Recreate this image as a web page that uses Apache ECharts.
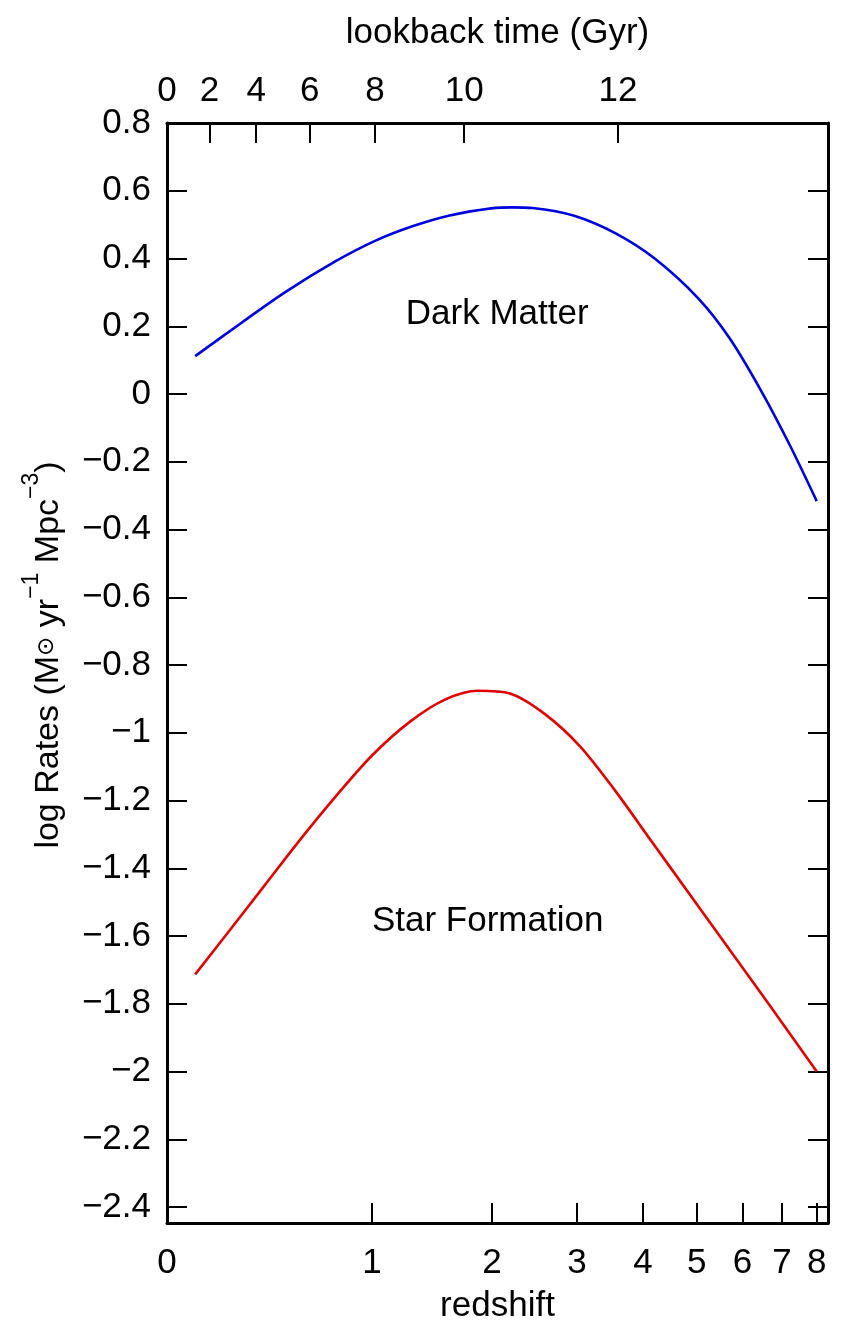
<!DOCTYPE html>
<html>
<head>
<meta charset="utf-8">
<script src="https://cdn.jsdelivr.net/npm/echarts@6/dist/echarts.min.js"></script>
<style>
  html, body { margin: 0; padding: 0; background: #fff; }
  #chart { width: 846px; height: 1331px; }
</style>
</head>
<body>
<div id="chart"></div>
<script>
// Tick labels
const redshiftTicks = [0, 1, 2, 3, 4, 5, 6, 7, 8];
const lookbackTicks = [0, 2, 4, 6, 8, 10, 12];          // Gyr
const logRateTicks = [0.8, 0.6, 0.4, 0.2, 0, -0.2, -0.4, -0.6, -0.8, -1, -1.2, -1.4, -1.6, -1.8, -2, -2.2, -2.4];

// Dark matter accretion rate history
const darkMatterZ       = [0.1, 0.29, 0.484, 0.769, 1.021, 1.293, 1.601, 1.993, 2.211, 2.444, 2.963, 3.56, 4.209, 5.038, 5.712, 6.479, 7.222, 8.0];
const darkMatterLogRate = [0.112, 0.212, 0.298, 0.392, 0.452, 0.495, 0.527, 0.548, 0.551, 0.549, 0.526, 0.474, 0.399, 0.281, 0.163, 0.005, -0.152, -0.316];

// Cosmic star formation rate history
const starFormationZ       = [0.1, 0.237, 0.393, 0.568, 0.795, 1.007, 1.275, 1.56, 1.862, 2.19, 2.59, 3.042, 3.549, 4.138, 4.863, 5.712, 6.684, 8.0];
const starFormationLogRate = [-1.713, -1.582, -1.449, -1.316, -1.173, -1.064, -0.967, -0.902, -0.876, -0.884, -0.945, -1.04, -1.17, -1.318, -1.478, -1.642, -1.806, -2.0];

// Axis ranges
const Z_AXIS_MAX = 8.35;
const LOG_RATE_MIN = -2.447;
const LOG_RATE_MAX = 0.8;

// Flat LCDM cosmology used to place the lookback-time axis
const H0 = 67.7, OMEGA_M = 0.315;
const OMEGA_L = 1 - OMEGA_M;
const HUBBLE_TIME = 977.79 / H0;                                  // Gyr
const AGE_SCALE = 2 / (3 * Math.sqrt(OMEGA_L)) * HUBBLE_TIME;
const LAMBDA_RATIO = Math.sqrt(OMEGA_L / OMEGA_M);
const ageAt = z => AGE_SCALE * Math.asinh(LAMBDA_RATIO * Math.pow(1 + z, -1.5));
const AGE_NOW = ageAt(0);
const lookbackAt = z => AGE_NOW - ageAt(z);
const redshiftAtLookback = t => Math.pow(Math.sinh((AGE_NOW - t) / AGE_SCALE) / LAMBDA_RATIO, -2 / 3) - 1;

// horizontal coordinate is log10(1+z)
const lg1p = z => Math.log10(1 + z);
const X_MAX = lg1p(Z_AXIS_MAX);

const FONT = '"Liberation Sans", Arial, "DejaVu Sans", sans-serif';
const TEXT_SIZE = 35;
const frameLine = { show: true, onZero: false, lineStyle: { color: '#000', width: 3 } };
const tickStyle = { show: true, inside: true, length: 20, lineStyle: { color: '#000', width: 2 } };
const labelStyle = { color: '#000', fontSize: TEXT_SIZE, fontFamily: FONT };

const zTickPos = redshiftTicks.map(lg1p);
const lookbackTickPos = lookbackTicks.map(t => lg1p(redshiftAtLookback(t)));

const fmtRate = v => {
  const r = +Math.abs(v).toFixed(1);
  return (v < -1e-9 ? '\u2212' : '') + String(r);
};

const toPoints = (zs, vs) => zs.map((z, i) => [lg1p(z), vs[i]]);

// curve captions, placed in (log10(1+z), log rate) coordinates
const captions = [
  { text: 'Dark Matter', at: [0.485, 0.236] },
  { text: 'Star Formation', at: [0.471, -1.557] }
];

const chart = echarts.init(document.getElementById('chart'), null, { renderer: 'canvas' });

chart.setOption({
  animation: false,
  backgroundColor: '#fff',
  grid: { left: 167, top: 123, right: 18, bottom: 108, containLabel: false, outerBoundsMode: 'none' },
  xAxis: [
    {
      type: 'value', position: 'bottom', min: 0, max: X_MAX,
      name: 'redshift', nameLocation: 'middle', nameGap: 66,
      nameTextStyle: labelStyle,
      axisLine: frameLine,
      axisTick: Object.assign({}, tickStyle, { customValues: zTickPos }),
      axisLabel: Object.assign({}, labelStyle, {
        customValues: zTickPos, margin: 23,
        formatter: v => String(Math.round(Math.pow(10, v) - 1))
      }),
      splitLine: { show: false }
    },
    {
      type: 'value', position: 'top', min: 0, max: X_MAX,
      name: 'lookback time (Gyr)', nameLocation: 'middle', nameGap: 72,
      nameTextStyle: labelStyle,
      axisLine: frameLine,
      axisTick: Object.assign({}, tickStyle, { customValues: lookbackTickPos }),
      axisLabel: Object.assign({}, labelStyle, {
        customValues: lookbackTickPos, margin: 14,
        formatter: v => String(Math.round(lookbackAt(Math.pow(10, v) - 1)))
      }),
      splitLine: { show: false }
    }
  ],
  yAxis: [
    {
      type: 'value', position: 'left', min: LOG_RATE_MIN, max: LOG_RATE_MAX,
      name: 'log Rates (M{sun|\u2299} yr{sup|\u22121} Mpc{sup|\u22123})',
      nameLocation: 'middle', nameGap: 89, nameRotate: 90,
      nameTextStyle: Object.assign({}, labelStyle, {
        fontSize: 34,
        padding: [0, 0, 0, 36],
        rich: {
          sun: { fontSize: 23, fontFamily: '"DejaVu Sans", sans-serif', color: '#000', padding: [0, 0, 4, 0] },
          sup: { fontSize: 23, fontFamily: FONT, color: '#000', padding: [0, 0, 35, 0] }
        }
      }),
      axisLine: frameLine,
      axisTick: Object.assign({}, tickStyle, { customValues: logRateTicks }),
      axisLabel: Object.assign({}, labelStyle, { customValues: logRateTicks, margin: 16, formatter: fmtRate }),
      splitLine: { show: false }
    },
    {
      type: 'value', position: 'right', min: LOG_RATE_MIN, max: LOG_RATE_MAX,
      axisLine: frameLine,
      axisTick: Object.assign({}, tickStyle, { customValues: logRateTicks }),
      axisLabel: { show: false },
      splitLine: { show: false }
    }
  ],
  series: [
    {
      name: 'Dark Matter', type: 'line', xAxisIndex: 0, yAxisIndex: 0,
      data: toPoints(darkMatterZ, darkMatterLogRate),
      smooth: 0.3, showSymbol: false,
      lineStyle: { color: '#0000dd', width: 2.6 }
    },
    {
      name: 'Star Formation', type: 'line', xAxisIndex: 0, yAxisIndex: 0,
      data: toPoints(starFormationZ, starFormationLogRate),
      smooth: 0.3, showSymbol: false,
      lineStyle: { color: '#e00000', width: 2.6 }
    }
  ]
});

// captions go through the axes' own scales
chart.setOption({
  graphic: captions.map(c => {
    const p = chart.convertToPixel({ xAxisIndex: 0, yAxisIndex: 0 }, c.at);
    return {
      type: 'text', x: p[0], y: p[1], silent: true,
      style: {
        text: c.text, fill: '#000', fontSize: TEXT_SIZE, fontFamily: FONT,
        align: 'center', verticalAlign: 'middle'
      }
    };
  })
});
</script>
</body>
</html>
